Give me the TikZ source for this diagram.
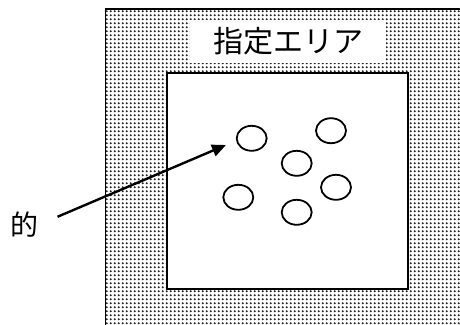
\documentclass[tikz,border=0pt]{standalone}
\usepackage{fontspec}
\setmainfont{Noto Sans CJK JP}
\usetikzlibrary{patterns.meta,arrows.meta}

\tikzdeclarepattern{
  name=areadots,
  type=uncolored,
  tile size={(4.2pt,4.2pt)},
  bounding box={(0pt,0pt) and (4.2pt,4.2pt)},
  code={\fill (2.1pt,2.1pt) circle (1.3pt);}
}
\tikzset{
  ring/.style={line width=1.8pt},
  pointer/.style={line width=2.4pt,-{Triangle[length=14pt,width=12pt]}}
}

\begin{document}
\begin{tikzpicture}[x=1pt,y=-1pt]
  \useasboundingbox (0,0) rectangle (460,324);
  \clip (0,0) rectangle (460,324);
  % designated area
  \fill[pattern=areadots, pattern color=black!85] (105.5,9) rectangle (470,334);
  \draw[line width=1.8pt] (105.5,340) |- (470,9);
  \node[fill=white, inner sep=0pt, minimum width=196pt, minimum height=43pt,
        font=\fontsize{30}{30}\selectfont] (title) at (288,41.5) {指定エリア};
  \draw[fill=white, line width=2pt] (166.7,72.7) rectangle (408,289);
  % targets
  \foreach \x/\y in {251.7/138.3, 331/130.7, 296.7/163.3,
                     336/187.3, 238.3/197.3, 296.7/212.3}
    \draw[ring] (\x,\y) ellipse (15 and 12.5);
  % label and arrow
  \node[inner sep=0pt, font=\fontsize{28}{28}\selectfont] (mato) at (24,225) {的};
  \coordinate (tip) at (226,145);
  \draw[pointer, shorten <=21pt] (mato.east) -- (tip);
\end{tikzpicture}
\end{document}
